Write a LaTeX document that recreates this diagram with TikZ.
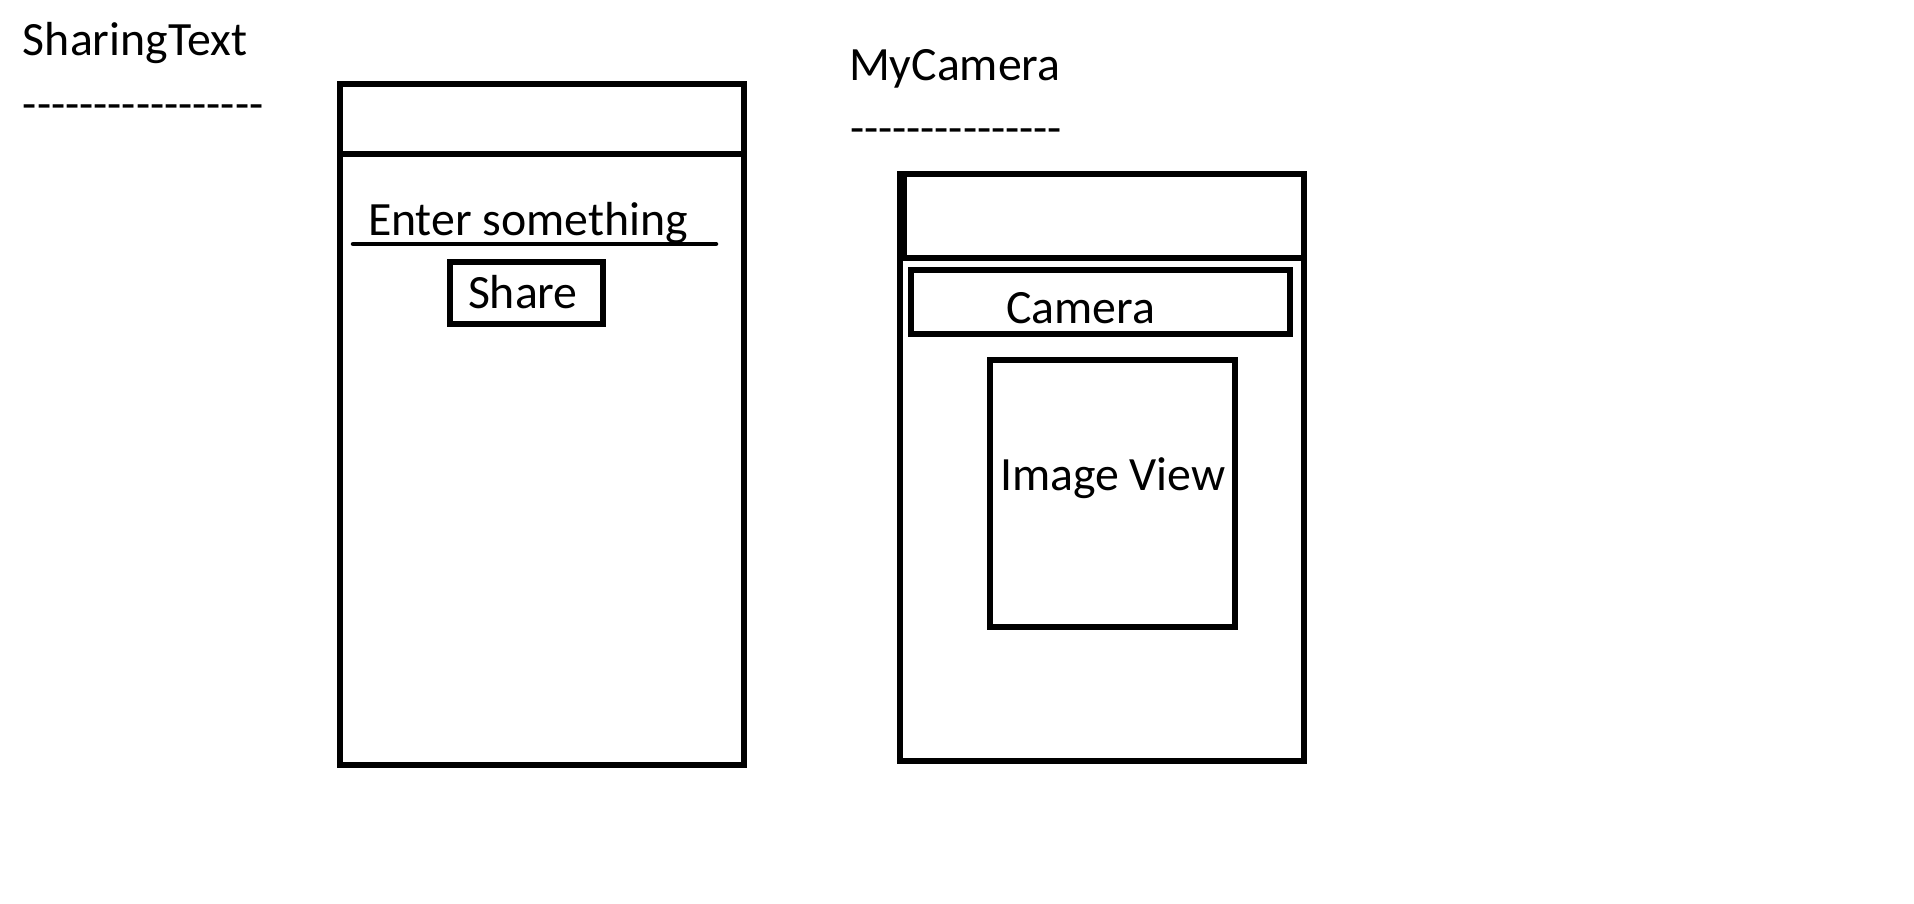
\documentclass[tikz,border=0pt]{standalone}
\usepackage{fontspec}
\setmainfont{Carlito}[Ligatures=TeXOff]
\begin{document}
\begin{tikzpicture}[x=1pt,y=-1pt,
  frame/.style={draw=black,line width=5.5pt,inner sep=0pt,outer sep=0pt,anchor=north west},
  label/.style={inner sep=0pt,outer sep=0pt,anchor=base west,font=\fontsize{47.8}{57}\selectfont},
  dashline/.style={label,font=\fontsize{46.2}{55}\selectfont},
  rule/.style={draw=black,line width=5.5pt}]
  \useasboundingbox (0,0) rectangle (1914,903);

  % --- SharingText screen ---
  \node[label] (t1) at (23,55) {SharingText};
  \node[dashline] (d1) at (23,119) {-----------------};
  \node[frame,minimum width=404pt,minimum height=681pt] (p1) at (340,84) {};
  \coordinate (p1hl) at (340,154);
  \coordinate (p1hr) at (744,154);
  \draw[rule] (p1hl) -- (p1hr);
  \node[label] (enter) at (368,235) {Enter something};
  \coordinate (ul) at (353,244);
  \coordinate (ur) at (716,244);
  \draw[line width=4.5pt,line cap=round] (ul) -- (ur);
  \node[frame,minimum width=153pt,minimum height=62pt] (share) at (450,262) {};
  \node[label] (sharet) at (468,308) {Share};

  % --- MyCamera screen ---
  \node[label] (t2) at (849,80) {MyCamera};
  \node[dashline] (d2) at (850,143) {---------------};
  \node[frame,minimum width=404pt,minimum height=587pt] (p2) at (900,174) {};
  \coordinate (p2hl) at (900,258);
  \coordinate (p2hr) at (1304,258);
  \draw[rule] (p2hl) -- (p2hr);
  \coordinate (p2st) at (904,174);
  \coordinate (p2sb) at (904,258);
  \draw[rule] (p2st) -- (p2sb);
  \node[frame,minimum width=379pt,minimum height=64pt] (cam) at (911,270) {};
  \node[label] (camt) at (1006,323) {Camera};
  \node[frame,minimum width=245pt,minimum height=267pt] (img) at (990,360) {};
  \node[label] (imgt) at (1000,490) {Image View};
\end{tikzpicture}
\end{document}
